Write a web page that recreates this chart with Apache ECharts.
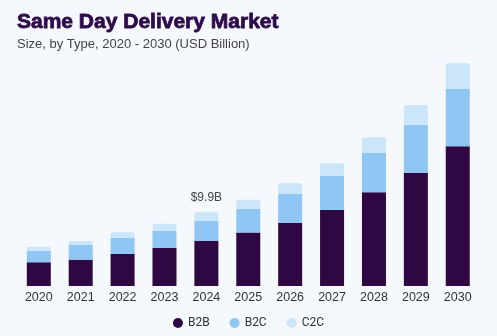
<!DOCTYPE html>
<html>
<head>
<meta charset="utf-8">
<script src="https://cdn.jsdelivr.net/npm/echarts@6/dist/echarts.min.js"></script>
<style>
  html, body { margin: 0; padding: 0; background: #f5f8fc; }
  #chart { width: 497px; height: 336px; }
</style>
</head>
<body>
<div id="chart"></div>
<script>
// Same Day Delivery market size by type, USD billion
const years = ['2020', '2021', '2022', '2023', '2024', '2025', '2026', '2027', '2028', '2029', '2030'];
const b2b = [3.19, 3.54, 4.30, 5.11, 6.05, 7.19, 8.51, 10.22, 12.59, 15.23, 18.78];
const b2c = [1.51, 1.97, 2.15, 2.28, 2.73, 3.20, 3.86, 4.61, 5.33, 6.45, 7.74];
const c2c = [0.58, 0.54, 0.77, 0.98, 1.12, 1.20, 1.43, 1.66, 2.07, 2.65, 3.41];
const highlightYear = '2024';
const highlightLabel = '$9.9B';

const colors = { B2B: '#2f0742', B2C: '#8fc6f3', C2C: '#cbe6f9' };

const chart = echarts.init(document.getElementById('chart'), null, { renderer: 'canvas' });

const topData = c2c.map((v, i) => {
  const item = { value: v };
  if (years[i] === highlightYear) {
    item.label = {
      show: true,
      position: 'top',
      distance: 9,
      formatter: highlightLabel,
      color: '#444',
      fontSize: 12,
      fontFamily: 'Liberation Sans, Arial, sans-serif'
    };
  }
  return item;
});

chart.setOption({
  backgroundColor: '#f5f8fc',
  animation: false,
  title: {
    text: 'Same Day Delivery Market',
    subtext: 'Size, by Type, 2020 - 2030 (USD Billion)',
    left: 12,
    top: 7,
    itemGap: 4,
    textStyle: {
      color: '#2e0b4a',
      fontSize: 21,
      fontWeight: 900,
      fontFamily: 'Liberation Sans, Arial, sans-serif',
      textBorderColor: '#2e0b4a',
      textBorderWidth: 0.8
    },
    subtextStyle: {
      color: '#444',
      fontSize: 13,
      fontFamily: 'Liberation Sans, Arial, sans-serif'
    }
  },
  legend: {
    bottom: 2,
    left: 'center',
    icon: 'circle',
    itemWidth: 10,
    itemHeight: 10,
    itemGap: 20,
    textStyle: { color: '#333', fontSize: 12, fontFamily: 'Roboto, sans-serif' },
    data: ['B2B', 'B2C', 'C2C']
  },
  grid: { left: 17.85, right: 18.3, top: 62.8, bottom: 50 },
  xAxis: {
    type: 'category',
    data: years,
    axisLine: { show: false },
    axisTick: { show: false },
    axisLabel: {
      color: '#333',
      fontSize: 12.5,
      margin: 5,
      fontFamily: 'Liberation Sans, Arial, sans-serif'
    }
  },
  yAxis: {
    type: 'value',
    min: 0,
    max: 30,
    show: false,
    splitLine: { show: false }
  },
  series: [
    {
      name: 'B2B', type: 'bar', stack: 'total', barWidth: 24,
      itemStyle: { color: colors.B2B },
      data: b2b
    },
    {
      name: 'B2C', type: 'bar', stack: 'total', barWidth: 24,
      itemStyle: { color: colors.B2C },
      data: b2c
    },
    {
      name: 'C2C', type: 'bar', stack: 'total', barWidth: 24,
      itemStyle: { color: colors.C2C, borderRadius: [2, 2, 0, 0] },
      data: topData
    }
  ]
});
</script>
</body>
</html>
